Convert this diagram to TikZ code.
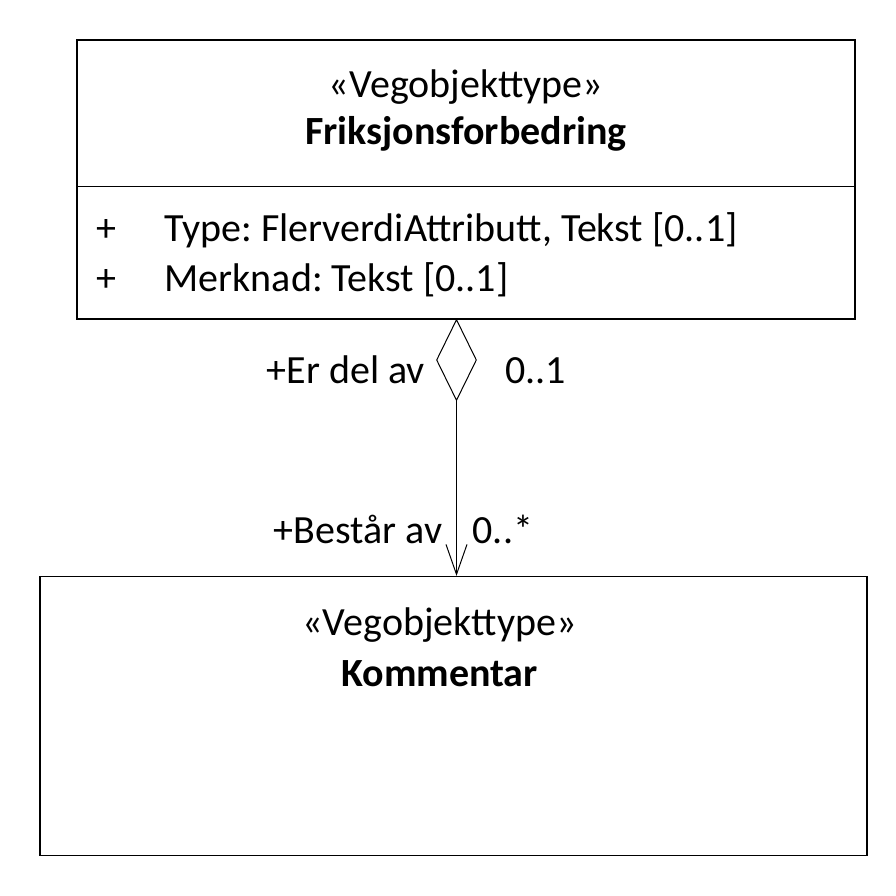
\documentclass[tikz,border=0pt]{standalone}
\usepackage{fontspec}
\setmainfont{Carlito}
\frenchspacing
\usetikzlibrary{shapes.geometric}
\usetikzlibrary{arrows.meta}
\tikzstyle{classbox} = [draw, line width=1.2pt, inner sep=0pt]
\tikzstyle{label} = [font=\fontsize{40}{48}\selectfont, inner sep=0pt, anchor=base]
\tikzstyle{classname} = [label, font=\fontsize{40}{48}\selectfont\bfseries]
\tikzstyle{aggregate} = [draw, diamond, line width=1pt, inner sep=0pt, minimum width=40pt, minimum height=81pt, anchor=north]

\begin{document}
\begin{tikzpicture}[x=1pt,y=-1pt]
\useasboundingbox (0,0) rectangle (896,896);

\node (friksjon) [classbox, minimum width=778pt, minimum height=279pt] at (466,179.5) {};
\node at (friksjon.north) [yshift=-58pt][label] {«Vegobjekttype»};
\node at (friksjon.north) [yshift=-105pt][classname] {Friksjonsforbedring};
\draw [line width=1.2pt] ([yshift=-147pt]friksjon.north west) -- ([yshift=-147pt]friksjon.north east);
\node at (friksjon.north west) [xshift=20pt, yshift=-202pt][label, anchor=base west] {+};
\node at (friksjon.north west) [xshift=88pt, yshift=-202pt][label, anchor=base west] {Type: FlerverdiAttributt, Tekst [0..1]};
\node at (friksjon.north west) [xshift=20pt, yshift=-252pt][label, anchor=base west] {+};
\node at (friksjon.north west) [xshift=88pt, yshift=-252pt][label, anchor=base west] {Merknad: Tekst [0..1]};

\node (kommentar) [classbox, minimum width=827pt, minimum height=279pt] at (453.5,716) {};
\node at (kommentar.north) [xshift=-14pt, yshift=-60pt][label] {«Vegobjekttype»};
\node at (kommentar.north) [xshift=-14pt, yshift=-111pt][classname] {Kommentar};

\node (delav) [aggregate] at (456.5,319) {};
\coordinate (bestar) at (delav.south |- kommentar.north);
\draw [line width=1pt, -{Straight Barb[length=30pt,width=21pt,line width=1pt]}] (delav.south) -- (bestar);

\node at (delav.west) [xshift=-11pt, yshift=-23pt][label, anchor=base east] {+Er del av};
\node at (delav.east) [xshift=28pt, yshift=-23pt][label, anchor=base west] {0..1};
\node at (bestar) [xshift=-14pt, yshift=32pt][label, anchor=base east] {+Består av};
\node at (bestar) [xshift=16pt, yshift=32pt][label, anchor=base west] {0..*};
\end{tikzpicture}
\end{document}
